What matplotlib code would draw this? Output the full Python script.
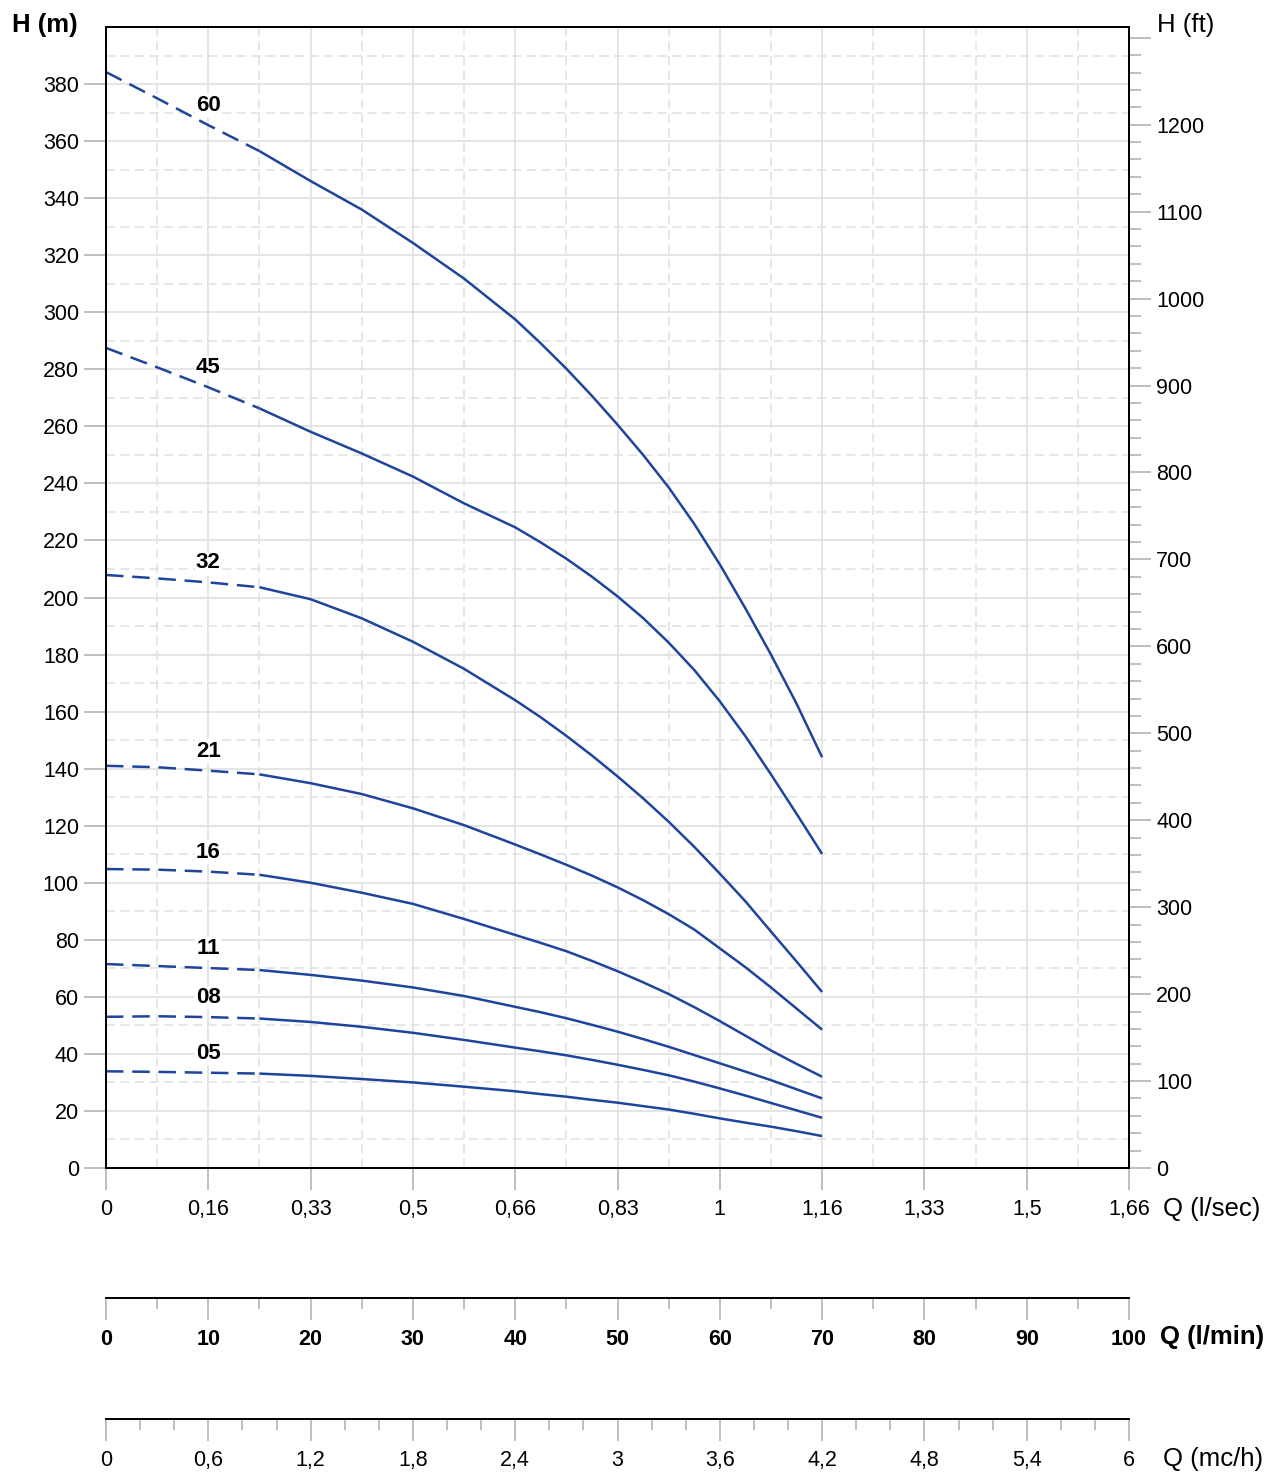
import matplotlib
matplotlib.use("Agg")
import matplotlib.pyplot as plt

plt.rcParams['font.family'] = ['Liberation Sans', 'DejaVu Sans']

# flow in l/min, head in m
q_lmin = [0, 5, 10, 15, 20, 25, 30, 35, 40, 42.5, 45, 47.5, 50, 52.5, 55, 57.5, 60, 62.5, 65, 67.5, 70]
curve_names = ["60", "45", "32", "21", "16", "11", "08", "05"]
h_60 = [384.2, 375.0, 365.6, 356.5, 346.0, 336.0, 324.3, 311.8, 297.5, 289.1, 280.2, 270.7, 260.6,
        250.0, 238.6, 225.8, 211.6, 196.2, 180.0, 162.8, 144.0]
h_45 = [287.5, 280.7, 273.7, 266.3, 258.1, 250.5, 242.4, 233.0, 224.6, 219.3, 213.6, 207.3, 200.4,
        192.8, 184.2, 174.6, 163.6, 151.4, 138.0, 124.2, 110.1]
h_32 = [207.9, 206.7, 205.3, 203.6, 199.4, 192.7, 184.5, 175.0, 164.0, 158.0, 151.5, 144.6, 137.3,
        129.6, 121.4, 112.6, 103.2, 93.5, 82.9, 72.4, 61.7]
h_21 = [141.0, 140.5, 139.3, 138.0, 134.9, 131.1, 126.1, 120.2, 113.4, 109.9, 106.3, 102.5, 98.4,
        93.9, 89.0, 83.6, 77.0, 70.4, 63.3, 55.9, 48.5]
h_16 = [104.8, 104.6, 103.9, 102.8, 100.0, 96.5, 92.6, 87.3, 81.7, 78.9, 76.0, 72.6, 69.0,
        65.1, 61.0, 56.4, 51.5, 46.4, 41.2, 36.5, 32.0]
h_11 = [71.5, 70.8, 70.1, 69.4, 67.7, 65.7, 63.3, 60.3, 56.5, 54.6, 52.5, 50.2, 47.8,
        45.2, 42.5, 39.6, 36.7, 33.8, 30.8, 27.6, 24.4]
h_08 = [53.0, 53.2, 52.9, 52.4, 51.2, 49.5, 47.4, 44.9, 42.2, 40.9, 39.5, 37.9, 36.2,
        34.4, 32.5, 30.3, 27.9, 25.4, 22.8, 20.2, 17.6]
h_05 = [33.9, 33.7, 33.4, 33.1, 32.3, 31.2, 30.0, 28.5, 26.9, 25.9, 25.0, 23.9, 22.9,
        21.7, 20.5, 19.0, 17.4, 15.9, 14.5, 12.9, 11.2]
curves = [h_60, h_45, h_32, h_21, h_16, h_11, h_08, h_05]

q_ticks = list(range(0, 101, 10))
lsec_labels = ["0", "0,16", "0,33", "0,5", "0,66", "0,83", "1", "1,16", "1,33", "1,5", "1,66"]
lmin_labels = [str(v) for v in q_ticks]
mch_labels = ["0", "0,6", "1,2", "1,8", "2,4", "3", "3,6", "4,2", "4,8", "5,4", "6"]
h_ticks = list(range(0, 381, 20))
ft_ticks = list(range(0, 1301, 100))

M_TO_FT = 3.28084
DASH_END = 3   # dashed part runs up to q_lmin[3] = 15 l/min
LABEL_AT = 2   # curve names sit above q_lmin[2] = 10 l/min

blue = '#1f449c'
grid_c = '#e0e0e0'
tick_c = '#b4b4b4'
fs = 15.5

W, H = 1279, 1475
fig = plt.figure(figsize=(W / 100, H / 100), dpi=100)
fig.patch.set_facecolor('white')

left = 106 / W
width = 1023 / W
ax = fig.add_axes([left, (H - 1168) / H, width, (1168 - 27) / H])
ax.set_xlim(0, 100)
ax.set_ylim(0, 400)

ax.set_xticks(q_ticks)
ax.set_xticklabels(lsec_labels)
ax.set_xticks(range(5, 100, 10), minor=True)
ax.set_yticks(h_ticks)
ax.set_yticks(range(10, 400, 20), minor=True)
ax.grid(which='major', color=grid_c, lw=1.2, ls='-')
ax.grid(which='minor', color=grid_c, lw=1.1, ls=(0, (6, 3.5)))
ax.set_axisbelow(True)
ax.tick_params(which='major', length=16, width=1.2, color=tick_c, labelsize=fs)
ax.tick_params(axis='x', which='major', pad=6.5)
ax.tick_params(axis='y', which='major', pad=3.5)
ax.tick_params(which='minor', length=0)
for s in ax.spines.values():
    s.set_color('black')
    s.set_linewidth(1.4)

for name, h in zip(curve_names, curves):
    ax.plot(q_lmin[:DASH_END + 1], h[:DASH_END + 1], color=blue, lw=1.8,
            dashes=(7, 3.5))
    ax.plot(q_lmin[DASH_END:], h[DASH_END:], color=blue, lw=1.8,
            solid_capstyle='butt', solid_joinstyle='round')
    ax.annotate(name, (q_lmin[LABEL_AT], h[LABEL_AT]), xytext=(0, 14), textcoords='offset points',
                ha='center', va='center', fontsize=16, fontweight='bold',
                bbox=dict(fc='white', ec='none', pad=1))

# right axis in feet
ax2 = ax.twinx()
ax2.set_ylim(0, 400 * M_TO_FT)
ax2.set_yticks(ft_ticks)
ax2.set_yticklabels([str(v) if v < 1300 else "" for v in ft_ticks])
ax2.set_yticks(range(0, 1311, 20), minor=True)
ax2.tick_params(which='major', length=16, width=1.2, color=tick_c, labelsize=fs, pad=3.5)
ax2.tick_params(which='minor', length=8.5, width=1.2, color=tick_c)
for s in ax2.spines.values():
    s.set_color('black')
    s.set_linewidth(1.4)


def scale_axis(y_px, labels, minor, bold):
    a = fig.add_axes([left, (H - y_px) / H, width, 0.0001])
    a.set_xlim(0, 100)
    a.set_yticks([])
    for side in ['top', 'left', 'right']:
        a.spines[side].set_visible(False)
    a.spines['bottom'].set_color('black')
    a.spines['bottom'].set_linewidth(1.4)
    a.set_xticks(q_ticks)
    a.set_xticklabels(labels, fontweight='bold' if bold else 'normal')
    a.set_xticks(minor, minor=True)
    a.tick_params(which='major', length=16, width=1.2, color=tick_c, labelsize=fs, pad=6.5)
    a.tick_params(which='minor', length=8, width=1.2, color=tick_c)
    a.patch.set_alpha(0)
    return a


scale_axis(1298, lmin_labels, range(5, 100, 10), True)
scale_axis(1419, mch_labels, [v * 10 / 3 for v in range(1, 30) if v % 3], False)

fig.text(12 / W, 1 - 25 / H, "H (m)", fontsize=18.5, fontweight='bold', ha='left', va='center')
fig.text(1157 / W, 1 - 25 / H, "H (ft)", fontsize=18.5, ha='left', va='center')
fig.text(1163 / W, 1 - 1209 / H, "Q (l/sec)", fontsize=18.5, ha='left', va='center')
fig.text(1160 / W, 1 - 1337 / H, "Q (l/min)", fontsize=18.5, fontweight='bold', ha='left', va='center')
fig.text(1163 / W, 1 - 1459 / H, "Q (mc/h)", fontsize=18.5, ha='left', va='center')

fig.savefig("out.png", dpi=100, facecolor='white')
